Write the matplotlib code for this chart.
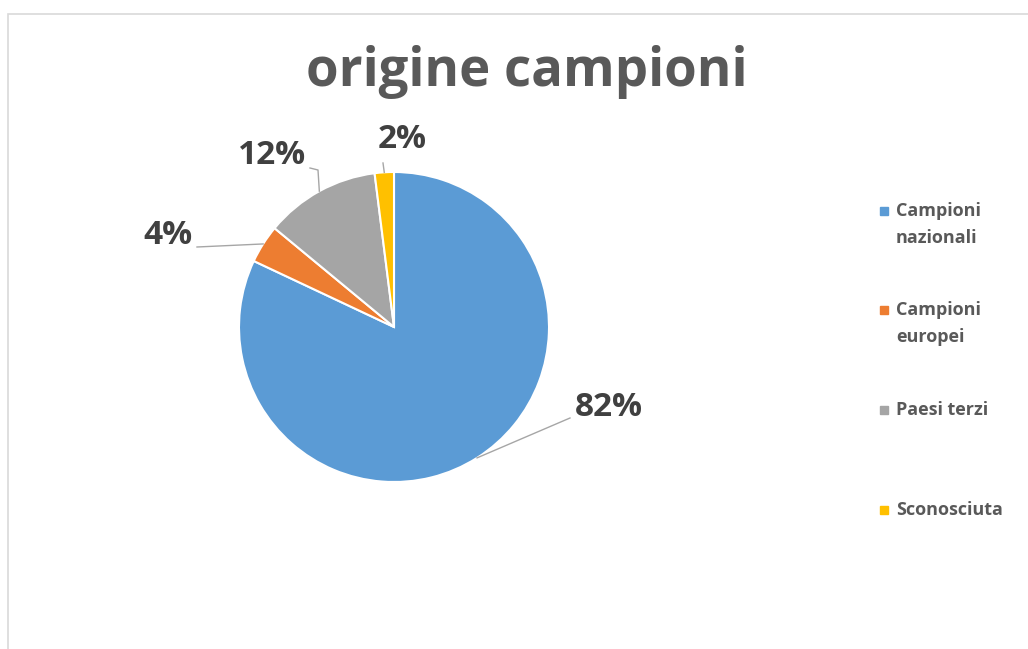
import numpy as np
import matplotlib
matplotlib.use("Agg")
import matplotlib.pyplot as plt
from matplotlib.patches import Rectangle

plt.rcParams['font.family'] = ['Open Sans', 'DejaVu Sans']

# -----------------------------
# DATA
# -----------------------------

categories = ["Campioni nazionali", "Campioni europei", "Paesi terzi", "Sconosciuta"]
legend_labels = ["Campioni\nnazionali", "Campioni\neuropei", "Paesi terzi", "Sconosciuta"]
shares = [82, 4, 12, 2]
colors = ["#5B9BD5", "#ED7D31", "#A5A5A5", "#FFC000"]

TITLE = "origine campioni"

W, H = 1028, 649

# -----------------------------
# FIGURE
# -----------------------------

fig = plt.figure(figsize=(W / 100, H / 100), dpi=100)

# chart area frame (cut off on the right and bottom)
fig.add_artist(Rectangle((8 / W, -0.1), 1.2, (H - 14) / H + 0.1,
                         transform=fig.transFigure, fill=False,
                         edgecolor="#d9d9d9", linewidth=1.2))

fig.text(527 / W, 1 - 72 / H, TITLE, ha="center", va="center",
         fontsize=38, fontweight="bold", color="#595959")

# pie axes: centre and radius in pixels
cx, cy, r = 394, 327, 155
ax = fig.add_axes([(cx - r) / W, (H - cy - r) / H, 2 * r / W, 2 * r / H])

wedges, _ = ax.pie(shares, colors=colors, startangle=90, counterclock=False,
                   radius=1, wedgeprops=dict(edgecolor="white", linewidth=1.5))
ax.set_xlim(-1, 1)
ax.set_ylim(-1, 1)
ax.axis("off")

# -----------------------------
# DATA LABELS + LEADER LINES
# -----------------------------

def px(x, y):
    return ((x - cx) / r, (cy - y) / r)

# label centre and leader elbow points (pixels)
label_pos = [(609, 408), (168, 236), (272, 156), (402, 140)]
leader_pts = [
    [(570, 418)],
    [(197, 247)],
    [(318, 170), (310, 168)],
    [(383, 163)],
]

for w, val, lp, pts in zip(wedges, shares, label_pos, leader_pts):
    mid = np.deg2rad((w.theta1 + w.theta2) / 2)
    start = (np.cos(mid), np.sin(mid))
    path = [start] + [px(*p) for p in pts]
    xs, ys = zip(*path)
    ax.plot(xs, ys, color="#a6a6a6", lw=1, clip_on=False)
    ax.text(*px(*lp), f"{val}%", ha="center", va="center", fontsize=24,
            fontweight="bold", color="#404040", clip_on=False)

# -----------------------------
# LEGEND
# -----------------------------

legend_y = [211, 310, 410, 510]
for lab, col, y in zip(legend_labels, colors, legend_y):
    fig.add_artist(Rectangle((880 / W, 1 - (y + 4) / H), 8 / W, 8 / H,
                             transform=fig.transFigure, color=col))
    for i, line in enumerate(lab.split("\n")):
        fig.text(896 / W, 1 - (y + 27 * i) / H, line, ha="left", va="center",
                 fontsize=13, fontweight="bold", color="#595959")

fig.savefig("out.png", dpi=100)
